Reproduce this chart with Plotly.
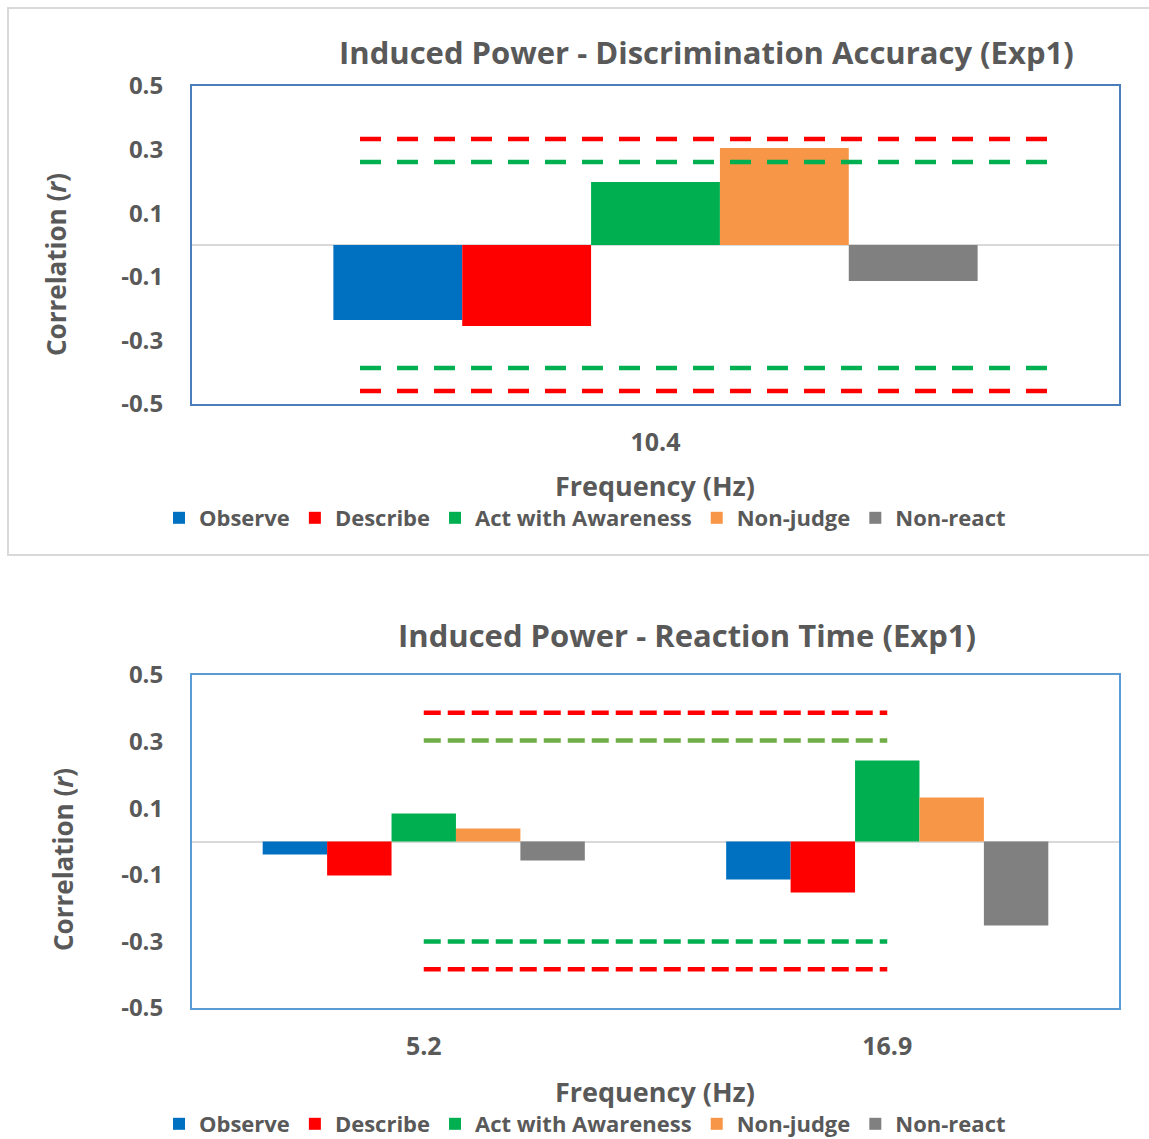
import plotly.graph_objects as go

W, H = 1149, 1139

# ---------------- data ----------------
series = ["Observe", "Describe", "Act with Awareness", "Non-judge", "Non-react"]
colors = ["#0070C0", "#FF0000", "#00B050", "#F79646", "#808080"]

top_categories = ["10.4"]
top_values = {
    "Observe": [-0.236],
    "Describe": [-0.255],
    "Act with Awareness": [0.198],
    "Non-judge": [0.305],
    "Non-react": [-0.113],
}
top_thresholds = [0.333, 0.261, -0.387, -0.459]
top_threshold_colors = ["#FF0000", "#00B050", "#00B050", "#FF0000"]

bot_categories = ["5.2", "16.9"]
bot_values = {
    "Observe": [-0.039, -0.114],
    "Describe": [-0.102, -0.153],
    "Act with Awareness": [0.084, 0.243],
    "Non-judge": [0.039, 0.132],
    "Non-react": [-0.057, -0.252],
}
bot_red_upper = [0.387, 0.387]
bot_green_upper = [0.303, 0.303]
bot_green_lower = [-0.300, -0.300]
bot_red_lower = [-0.384, -0.384]

y_ticks = [0.5, 0.3, 0.1, -0.1, -0.3, -0.5]
y_ticklabels = ["0.5", "0.3", "0.1", "-0.1", "-0.3", "-0.5"]

title_top = "Induced Power - Discrimination Accuracy (Exp1)"
title_bot = "Induced Power - Reaction Time (Exp1)"
x_title = "Frequency (Hz)"
y_title = "Correlation (<i>r</i>)"

# ---------------- helpers ----------------
def px(x):
    return x / W

def py(y):
    return 1 - y / H

FONT = "Open Sans"
GRAY = "#595959"

def f(size):
    return dict(family=FONT, size=size, color=GRAY, weight="bold")

fig = go.Figure()

for name, col in zip(series, colors):
    fig.add_trace(go.Bar(
        x=top_categories, y=top_values[name], name=name,
        marker=dict(color=col, line=dict(width=0)),
        xaxis="x", yaxis="y", legend="legend",
    ))
for name, col in zip(series, colors):
    fig.add_trace(go.Bar(
        x=bot_categories, y=bot_values[name], name=name,
        marker=dict(color=col, line=dict(width=0)),
        xaxis="x2", yaxis="y2", legend="legend2",
    ))

bot_lines = [
    (bot_red_upper, "#FF0000"),
    (bot_green_upper, "#70AD47"),
    (bot_green_lower, "#00B050"),
    (bot_red_lower, "#FF0000"),
]
for vals, col in bot_lines:
    fig.add_trace(go.Scatter(
        x=bot_categories, y=vals, mode="lines", showlegend=False,
        line=dict(color=col, width=4.5, dash="17px,7px"),
        xaxis="x2", yaxis="y2", hoverinfo="skip",
    ))

shapes = []
for val, col in zip(top_thresholds, top_threshold_colors):
    shapes.append(dict(
        type="line", xref="x domain", yref="y",
        x0=(360 - 192) / 927, x1=(1060 - 192) / 927, y0=val, y1=val,
        line=dict(color=col, width=4.5, dash="21px,16px"), layer="above",
    ))
# outer chart border for top chart
shapes.append(dict(
    type="rect", xref="paper", yref="paper",
    x0=px(8), x1=px(1160), y0=py(555), y1=py(8),
    line=dict(color="#D9D9D9", width=2), layer="below",
))

axis_common = dict(
    showgrid=False, showline=True, mirror=True, linewidth=2,
    ticks="", fixedrange=True,
)
yaxis_common = dict(
    range=[-0.5, 0.5], tickvals=y_ticks, ticktext=y_ticklabels,
    zeroline=True, zerolinecolor="#D9D9D9", zerolinewidth=2,
    tickfont=f(24),
    ticklabelstandoff=22,
)
xaxis_common = dict(
    type="category",
    tickfont=f(25),
    ticklabelstandoff=15,
)

annotations = [
    dict(text=title_top, x=px(706), y=py(52), xref="paper", yref="paper",
         showarrow=False, font=f(31), xanchor="center", yanchor="middle"),
    dict(text=title_bot, x=px(687), y=py(635), xref="paper", yref="paper",
         showarrow=False, font=f(31), xanchor="center", yanchor="middle"),
    dict(text=x_title, x=px(655), y=py(485), xref="paper", yref="paper",
         showarrow=False, font=f(27), xanchor="center", yanchor="middle"),
    dict(text=x_title, x=px(655), y=py(1091), xref="paper", yref="paper",
         showarrow=False, font=f(27), xanchor="center", yanchor="middle"),
    dict(text=y_title, x=px(56), y=py(265), xref="paper", yref="paper",
         showarrow=False, textangle=-90, font=f(26), xanchor="center", yanchor="middle"),
    dict(text=y_title, x=px(63), y=py(860), xref="paper", yref="paper",
         showarrow=False, textangle=-90, font=f(26), xanchor="center", yanchor="middle"),
]

legend_common = dict(
    orientation="h", xanchor="center", yanchor="middle",
    font=f(22),
    bgcolor="rgba(0,0,0,0)", itemclick=False, itemdoubleclick=False,
    tracegroupgap=0,
)

fig.update_layout(
    width=W, height=H,
    margin=dict(l=0, r=0, t=0, b=0, autoexpand=False),
    paper_bgcolor="white", plot_bgcolor="white",
    barmode="group", bargap=0.305, bargroupgap=0,
    showlegend=True,
    xaxis=dict(domain=[px(192), px(1119)], anchor="y", linecolor="#4A7EBB", **axis_common, **xaxis_common),
    yaxis=dict(domain=[py(404), py(86)], anchor="x", linecolor="#4A7EBB", **axis_common, **yaxis_common),
    xaxis2=dict(domain=[px(192), px(1119)], anchor="y2", linecolor="#5B9BD5", **axis_common, **xaxis_common),
    yaxis2=dict(domain=[py(1008), py(675)], anchor="x2", linecolor="#5B9BD5", **axis_common, **yaxis_common),
    legend=dict(x=px(585), y=py(518), **legend_common),
    legend2=dict(x=px(585), y=py(1124), **legend_common),
    shapes=shapes,
    annotations=annotations,
)

fig.write_html("out.html")
